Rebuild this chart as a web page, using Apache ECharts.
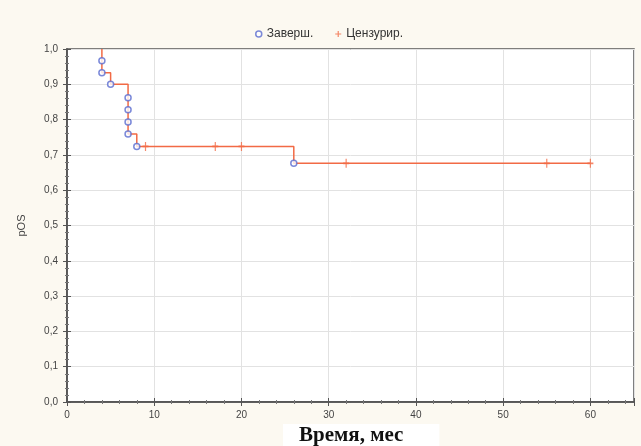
<!DOCTYPE html>
<html><head><meta charset="utf-8">
<script src="https://cdn.jsdelivr.net/npm/echarts@6/dist/echarts.min.js"></script>
<style>html,body{margin:0;padding:0;background:#fcf9f1}#c{width:641px;height:446px}</style>
</head><body><div id="c"></div>
<script>
// Kaplan–Meier curve: step points (time, survival after time)
const curveTimes = [4, 4, 5, 7, 8, 26, 60];
const curveSurv  = [1.0, 0.933, 0.9, 0.759, 0.724, 0.676, 0.676];
// Completed (events)
const eventTimes = [4, 4, 5, 7, 7, 7, 7, 8, 26];
const eventSurv  = [0.967, 0.933, 0.9, 0.862, 0.828, 0.793, 0.759, 0.724, 0.676];
// Censored
const censTimes = [9, 17, 20, 32, 55, 60];
const censSurv  = [0.724, 0.724, 0.724, 0.676, 0.676, 0.676];
const yTicks = ['0,0','0,1','0,2','0,3','0,4','0,5','0,6','0,7','0,8','0,9','1,0'];
const xTicks = [0, 10, 20, 30, 40, 50, 60];

const zip = (a, b) => a.map((v, i) => [v, b[i]]);
const plusPath = 'path://M4,0 L6,0 L6,4 L10,4 L10,6 L6,6 L6,10 L4,10 L4,6 L0,6 L0,4 L4,4 Z';
const orange = '#f26a45';
const blue = '#5a6bd0';

const chart = echarts.init(document.getElementById('c'));
const axisCommon = {
  axisLine: {show: true, lineStyle: {color: '#555', width: 1.5}},
  axisTick: {show: true, inside: true, length: 4, lineStyle: {color: '#555'}},
  minorTick: {show: true, splitNumber: 5, length: 2, lineStyle: {color: '#777'}},
};
chart.setOption({
  backgroundColor: '#fcf9f1',
  animation: false,
  title: {
    text: 'Время, мес', left: 283, bottom: -2,
    backgroundColor: '#ffffff', padding: [1, 36, 2, 16],
    textStyle: {fontFamily: 'Liberation Serif', fontWeight: 'bold', fontSize: 21, color: '#111'}
  },
  legend: {
    top: 23, left: 250, itemWidth: 6, itemHeight: 6, itemGap: 22,
    textStyle: {fontFamily: 'Liberation Sans', fontSize: 12, color: '#333'},
    data: [
      {name: 'Заверш.', icon: 'circle', itemStyle: {color: '#fff', borderColor: blue, borderWidth: 1.5}},
      {name: 'Цензурир.', icon: plusPath, itemStyle: {color: orange}}
    ]
  },
  grid: {left: 67, right: 7, top: 49, bottom: 44, show: true, backgroundColor: '#ffffff', borderColor: '#555', borderWidth: 1.5},
  xAxis: [{
    type: 'value', min: 0, max: 65, interval: 10,
    ...axisCommon,
    axisLabel: {color: '#444', fontSize: 10, fontFamily: 'Liberation Sans', margin: 8,
      formatter: v => xTicks.includes(v) ? String(v) : ''},
    splitLine: {show: true, lineStyle: {color: '#e2e2e2'}}
  }, {
    type: 'value', min: 0, max: 65, interval: 10, position: 'top',
    ...axisCommon, axisLabel: {show: false}, splitLine: {show: false}
  }],
  yAxis: [{
    type: 'value', min: 0, max: 1, interval: 0.1,
    ...axisCommon,
    name: 'pOS', nameLocation: 'middle', nameGap: 40,
    nameTextStyle: {color: '#444', fontSize: 11, fontFamily: 'Liberation Sans'},
    axisLabel: {color: '#444', fontSize: 10, fontFamily: 'Liberation Sans', margin: 9,
      formatter: v => yTicks[Math.round(v * 10)]},
    splitLine: {show: true, lineStyle: {color: '#e2e2e2'}}
  }, {
    type: 'value', min: 0, max: 1, interval: 0.1, position: 'right',
    ...axisCommon, axisLabel: {show: false}, splitLine: {show: false}
  }],
  series: [
    {type: 'line', step: 'end', data: zip(curveTimes, curveSurv), showSymbol: false, symbol: 'none',
      lineStyle: {color: orange, width: 1.5}, silent: true, z: 2},
    {name: 'Цензурир.', type: 'scatter', data: zip(censTimes, censSurv), symbol: plusPath, symbolSize: [6, 9],
      itemStyle: {color: orange}, z: 3},
    {name: 'Заверш.', type: 'scatter', data: zip(eventTimes, eventSurv), symbol: 'circle', symbolSize: 6,
      itemStyle: {color: '#fff', borderColor: blue, borderWidth: 1.5}, z: 4}
  ]
});
</script></body></html>
